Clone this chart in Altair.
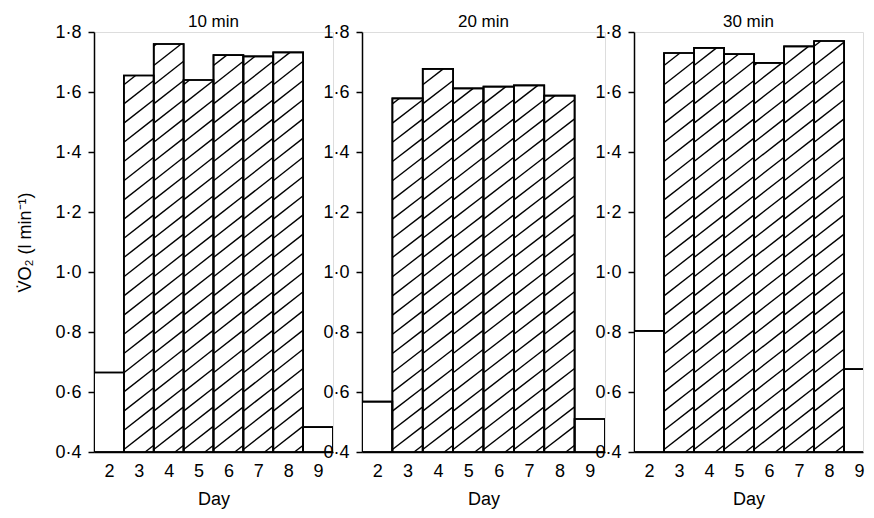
import altair as alt
import pandas as pd

# ---- data ----
days = [2, 3, 4, 5, 6, 7, 8, 9]
hatched = [False, True, True, True, True, True, True, False]
vo2_10min = [0.665, 1.655, 1.760, 1.640, 1.723, 1.719, 1.732, 0.483]
vo2_20min = [0.568, 1.579, 1.677, 1.612, 1.618, 1.622, 1.588, 0.510]
vo2_30min = [0.804, 1.730, 1.747, 1.726, 1.697, 1.752, 1.770, 0.676]
panel_titles = ["10 min", "20 min", "30 min"]
y_ticks = [0.4, 0.6, 0.8, 1.0, 1.2, 1.4, 1.6, 1.8]

BASE = 0.4
TOP = 1.8
# hatch style (slope in data units per day, vertical gap in data units)
SLOPE = 0.078
GAP = 0.064
FONT = "Liberation Sans"


def bars_df(vals, xmax):
    return pd.DataFrame({
        "x0": [d - 0.5 for d in days],
        "x1": [min(d + 0.5, xmax + 0.08) for d in days],
        "v": vals,
        "base": [BASE] * len(days),
    })


def hatch_df(vals):
    rows = []
    for d, v, h in zip(days, vals, hatched):
        if not h:
            continue
        xl, xr = d - 0.5, d + 0.5
        c = BASE - SLOPE + GAP * 0.35
        while c < v:
            x0, y0 = xl, c
            if y0 < BASE:
                x0, y0 = xl + (BASE - c) / SLOPE, BASE
            x1, y1 = xr, c + SLOPE
            if y1 > v:
                x1, y1 = xl + (v - c) / SLOPE, v
            if x1 > x0:
                rows.append({"hx0": x0, "hx1": x1, "hy0": y0, "hy1": y1})
            c += GAP
    return pd.DataFrame(rows)


def yaxis(ytitle):
    common = dict(
        values=y_ticks,
        labelExpr="replace(format(datum.value, '.1f'), '.', '·')",
        grid=False, tickSize=6, tickWidth=1.5, tickColor="black",
        domainColor="black", domainWidth=1.5, labelOverlap=False,
        labelFontSize=18, labelColor="black", labelPadding=7, labelFont=FONT,
    )
    if ytitle:
        return alt.Axis(title=ytitle, titleFontSize=18,
                        titleFontWeight="normal", titleColor="black",
                        titlePadding=20, titleFont=FONT, **common)
    return alt.Axis(title=None, **common)


def xaxis():
    return alt.Axis(
        values=days, format="d", ticks=False, grid=False, labelOverlap=False,
        labelFlush=False, domainColor="black", domainWidth=1.5,
        labelFontSize=18, labelColor="black", labelPadding=10, labelFont=FONT,
        title="Day", titleFontSize=18, titleFontWeight="normal",
        titleColor="black", titlePadding=10, titleFont=FONT,
    )


def panel(title, vals, width, xmax, ytitle):
    xscale = alt.Scale(domain=[1.5, xmax], nice=False, zero=False)
    yscale = alt.Scale(domain=[BASE, TOP], nice=False, zero=False)
    bdf = bars_df(vals, xmax)
    bars = alt.Chart(bdf).mark_rect(
        fill="white", stroke="black", strokeWidth=1.7, clip=True
    ).encode(
        x=alt.X("x0:Q", scale=xscale, axis=xaxis()),
        x2="x1:Q",
        y=alt.Y("v:Q", scale=yscale, axis=yaxis(ytitle)),
        y2="base:Q",
    )
    lines = alt.Chart(hatch_df(vals)).mark_rule(
        stroke="black", strokeWidth=1.4
    ).encode(
        x=alt.X("hx0:Q", scale=xscale, axis=xaxis()),
        x2="hx1:Q",
        y=alt.Y("hy0:Q", scale=yscale, axis=yaxis(ytitle)),
        y2="hy1:Q",
    )
    outline = alt.Chart(bdf).mark_rect(
        fill="transparent", stroke="black", strokeWidth=1.7, clip=True
    ).encode(
        x=alt.X("x0:Q", scale=xscale, axis=xaxis()),
        x2="x1:Q",
        y=alt.Y("v:Q", scale=yscale, axis=yaxis(ytitle)),
        y2="base:Q",
    )
    return alt.layer(bars, lines, outline).properties(
        width=width, height=420,
        title=alt.TitleParams(title, fontSize=17, fontWeight="normal",
                              font=FONT, color="black", anchor="middle",
                              frame="group", offset=-8),
    )


p1 = panel(panel_titles[0], vo2_10min, 239, 9.5, "V̇O₂ (l min⁻¹)")
p2 = panel(panel_titles[1], vo2_20min, 243, 9.5, None)
p3 = panel(panel_titles[2], vo2_30min, 229, 9.13, None)

chart = alt.hconcat(p1, p2, p3, spacing=-12).properties(
    padding={"left": 8, "top": 4, "right": 0, "bottom": 0}
).configure_view(stroke=None).configure(font=FONT)

chart.save("out.html", embed_options={"renderer": "svg", "actions": False})
